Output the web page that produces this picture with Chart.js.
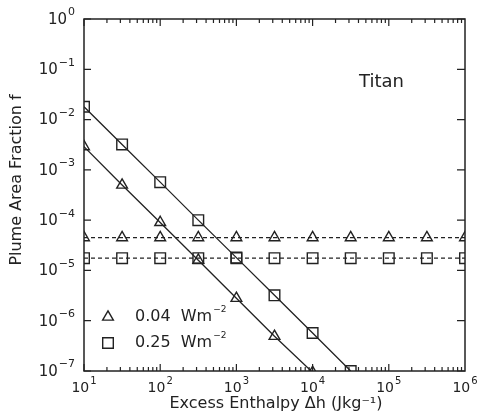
<!DOCTYPE html>
<html>
<head>
<meta charset="utf-8">
<script src="https://cdn.jsdelivr.net/npm/chart.js@4/dist/chart.umd.min.js"></script>
<style>
  html, body { margin: 0; padding: 0; background: #fff; }
  #wrap { width: 478px; height: 414px; }
</style>
</head>
<body>
<div id="wrap"><canvas id="plume"></canvas></div>
<script>
// excess enthalpy (J/kg), half-decade steps
const enthalpy = [10, 31.62, 100, 316.2, 1000, 3162, 10000, 31623, 100000, 316228, 1000000];
// power-law curves, f ~ dh^-1.5
const fracLow = [2.9e-3, 5.0e-4, 9.0e-5, 1.6e-5, 2.8e-6, 4.9e-7, 9.4e-8];
const fracHigh = [1.8e-2, 3.2e-3, 5.7e-4, 1.0e-4, 1.8e-5, 3.2e-6, 5.7e-7, 1.0e-7];
// horizontal (dashed) levels
const flatLow = [4.5e-5, 4.5e-5, 4.5e-5, 4.5e-5, 4.5e-5, 4.5e-5, 4.5e-5, 4.5e-5, 4.5e-5, 4.5e-5, 4.5e-5];
const flatHigh = [1.75e-5, 1.75e-5, 1.75e-5, 1.75e-5, 1.75e-5, 1.75e-5, 1.75e-5, 1.75e-5, 1.75e-5, 1.75e-5, 1.75e-5];
const fluxLabels = ['0.04', '0.25'];
const xTicks = [1e1, 1e2, 1e3, 1e4, 1e5, 1e6];
const yTicks = [1e-7, 1e-6, 1e-5, 1e-4, 1e-3, 1e-2, 1e-1, 1e0];

const FONT = '"DejaVu Sans", sans-serif';
const INK = '#222';

function pts(xs, ys) {
  return ys.map((y, i) => ({ x: xs[i], y: y }));
}

function series(ys, shape, dashed) {
  return {
    data: pts(enthalpy, ys),
    showLine: true,
    borderColor: INK,
    borderWidth: 1.3,
    borderDash: dashed ? [4, 3] : [],
    pointStyle: shape,
    pointRadius: shape === 'rect' ? 7.5 : 6.2,
    pointBorderWidth: 1.4,
    pointBorderColor: INK,
    pointBackgroundColor: 'rgba(0,0,0,0)',
    clip: 0
  };
}

// draws "10" with a raised exponent
function drawPow(ctx, exp, x, y, align, size) {
  const base = '10';
  const sup = exp < 0 ? '\u2212' + Math.abs(exp) : String(exp);
  ctx.font = size + 'px ' + FONT;
  const wb = ctx.measureText(base).width;
  ctx.font = Math.round(size * 0.72) + 'px ' + FONT;
  const ws = ctx.measureText(sup).width;
  const total = wb + 1 + ws;
  let left = align === 'right' ? x - total : x - total / 2;
  ctx.textBaseline = 'middle';
  ctx.textAlign = 'left';
  ctx.font = size + 'px ' + FONT;
  ctx.fillText(base, left, y);
  ctx.font = Math.round(size * 0.72) + 'px ' + FONT;
  ctx.fillText(sup, left + wb + 1, y - size * 0.5);
}

const frame = {
  id: 'frame',
  afterDraw(chart) {
    const { ctx, chartArea: a, scales } = chart;
    const sx = scales.x, sy = scales.y;
    ctx.save();
    ctx.strokeStyle = INK;
    ctx.fillStyle = INK;
    ctx.lineWidth = 1.5;
    ctx.strokeRect(a.left, a.top, a.right - a.left, a.bottom - a.top);

    // x ticks, major and minor, bottom and top, pointing inward
    ctx.lineWidth = 1.2;
    ctx.beginPath();
    for (let d = 1; d < 6; d++) {
      for (let m = 1; m <= 9; m++) {
        const v = m * Math.pow(10, d);
        const px = sx.getPixelForValue(v);
        const len = m === 1 ? 7 : 4;
        ctx.moveTo(px, a.bottom); ctx.lineTo(px, a.bottom - len);
        ctx.moveTo(px, a.top); ctx.lineTo(px, a.top + len);
      }
    }
    // y ticks, major only
    yTicks.forEach(v => {
      const py = sy.getPixelForValue(v);
      ctx.moveTo(a.left, py); ctx.lineTo(a.left + 7, py);
      ctx.moveTo(a.right, py); ctx.lineTo(a.right - 8, py);
    });
    ctx.stroke();

    // tick labels
    xTicks.forEach(v => {
      drawPow(ctx, Math.round(Math.log10(v)), sx.getPixelForValue(v), a.bottom + 17, 'center', 14);
    });
    yTicks.forEach(v => {
      drawPow(ctx, Math.round(Math.log10(v)), a.left - 9, sy.getPixelForValue(v) + 1, 'right', 15);
    });

    // axis titles
    ctx.font = '16px ' + FONT;
    ctx.textAlign = 'center';
    ctx.textBaseline = 'middle';
    ctx.fillText('Excess Enthalpy \u0394h (Jkg\u207B\u00B9)', 276, 404);
    ctx.save();
    ctx.translate(17, 180);
    ctx.rotate(-Math.PI / 2);
    ctx.fillText('Plume Area Fraction f', 0, 0);
    ctx.restore();

    // panel label
    ctx.font = '18px ' + FONT;
    ctx.textAlign = 'left';
    ctx.fillText('Titan', 359, 82);

    // legend
    const shapes = ['triangle', 'rect'];
    const radii = [6.2, 7.5];
    fluxLabels.forEach((lab, i) => {
      const ly = 317 + i * 26;
      ctx.lineWidth = 1.4;
      ctx.fillStyle = 'rgba(0,0,0,0)';
      Chart.helpers.drawPoint(ctx, { pointStyle: shapes[i], radius: radii[i], borderWidth: 1.4 }, 108, ly);
      ctx.fillStyle = INK;
      ctx.font = '16px ' + FONT;
      ctx.textBaseline = 'middle';
      const txt = lab + '  Wm';
      ctx.fillText(txt, 135, ly);
      const w = ctx.measureText(txt).width;
      ctx.font = '9px ' + FONT;
      ctx.fillText('\u2212' + '2', 135 + w + 1, ly - 7);
    });
    ctx.restore();
  }
};

new Chart(document.getElementById('plume'), {
  type: 'scatter',
  data: {
    datasets: [
      series(fracLow, 'triangle', false),
      series(fracHigh, 'rect', false),
      series(flatLow, 'triangle', true),
      series(flatHigh, 'rect', true)
    ]
  },
  options: {
    responsive: true,
    maintainAspectRatio: false,
    animation: false,
    layout: { padding: { left: 0, top: 19, right: 13, bottom: 0 } },
    plugins: { legend: { display: false }, tooltip: { enabled: false } },
    scales: {
      x: {
        type: 'logarithmic',
        min: 10,
        max: 1e6,
        grid: { display: false },
        border: { display: false },
        ticks: { display: false },
        afterFit(s) { s.height = 43; }
      },
      y: {
        type: 'logarithmic',
        min: 1e-7,
        max: 1,
        grid: { display: false },
        border: { display: false },
        ticks: { display: false },
        afterFit(s) { s.width = 84; }
      }
    }
  },
  plugins: [frame]
});
</script>
</body>
</html>
